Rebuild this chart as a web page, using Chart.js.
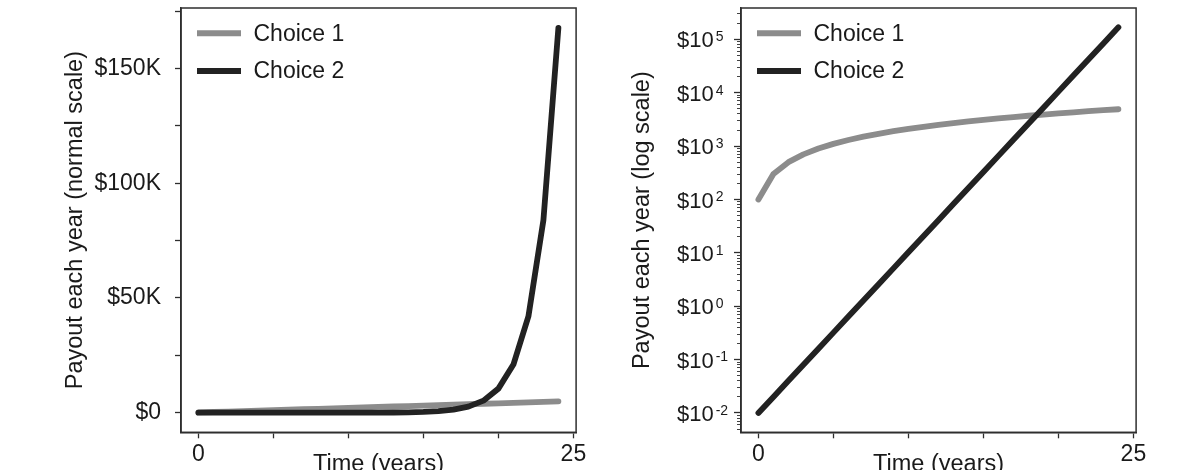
<!DOCTYPE html>
<html>
<head>
<meta charset="utf-8">
<script src="https://cdn.jsdelivr.net/npm/chart.js@4.4.1/dist/chart.umd.min.js"></script>
<style>
  html, body { margin: 0; padding: 0; background: #fff; overflow: hidden; width: 1200px; height: 470px; }
  .panel { position: absolute; top: 0; width: 600px; height: 490px; }
  #p1 { left: 0; }
  #p2 { left: 560px; }
</style>
</head>
<body>
<div class="panel" id="p1"><canvas id="c1"></canvas></div>
<div class="panel" id="p2"><canvas id="c2"></canvas></div>
<script>
'use strict';

// Payout per year for the two choices (years 0..24).
const years = [0, 1, 2, 3, 4, 5, 6, 7, 8, 9, 10, 11, 12, 13, 14, 15, 16, 17, 18, 19, 20, 21, 22, 23, 24];
const choice1 = [100, 300, 500, 700, 900, 1100, 1300, 1500, 1700, 1900, 2100, 2300, 2500,
  2700, 2900, 3100, 3300, 3500, 3700, 3900, 4100, 4300, 4500, 4700, 4900];
const choice2 = [0.01, 0.02, 0.04, 0.08, 0.16, 0.32, 0.64, 1.28, 2.56, 5.12, 10.24, 20.48, 40.96,
  81.92, 163.84, 327.68, 655.36, 1310.72, 2621.44, 5242.88, 10485.76, 20971.52, 41943.04,
  83886.08, 167772.16];

const seriesNames = ['Choice 1', 'Choice 2'];

// Axis ticks
const xTicks = [0, 5, 10, 15, 20, 25];
const xTickLabels = ['0', '', '', '', '', '25'];
const linTicks = [0, 25000, 50000, 75000, 100000, 125000, 150000, 175000];
const linTickLabels = ['$0', '', '$50K', '', '$100K', '', '$150K', ''];
const logDecades = [-2, -1, 0, 1, 2, 3, 4, 5];

const FONT = '"Liberation Sans", Arial, Helvetica, sans-serif';
const TEXT = '#1a1a1a';
const AXIS = '#2e2e2e';
const GREY = '#8c8c8c';
const BLACK = '#222222';

const X_MIN = -1.16, X_MAX = 25.18;
const LIN_MIN = -8550, LIN_MAX = 176400;
const LOG_MIN = 0.004346, LOG_MAX = 386400;

const pts = (ys) => ys.map((v, i) => ({ x: years[i], y: v }));

function datasets() {
  return [
    { label: seriesNames[0], data: pts(choice1), borderColor: GREY, borderWidth: 5.8, order: 1 },
    { label: seriesNames[1], data: pts(choice2), borderColor: BLACK, borderWidth: 5.8, order: 0 },
  ];
}

// box around the plotting area
const frame = {
  id: 'frame',
  afterDatasetsDraw(chart) {
    const a = chart.chartArea, c = chart.ctx;
    c.save();
    c.strokeStyle = AXIS;
    c.lineWidth = 1.5;
    c.strokeRect(a.left, a.top, a.right - a.left, a.bottom - a.top);
    c.restore();
  },
};

// legend sits inside the top-left corner of the box
const insideLegend = {
  id: 'insideLegend',
  afterDraw(chart) {
    const a = chart.chartArea, c = chart.ctx;
    c.save();
    chart.data.datasets.forEach((ds, i) => {
      const y = a.top + 25.3 + i * 37.7;
      c.strokeStyle = ds.borderColor;
      c.lineWidth = 6;
      c.lineCap = 'butt';
      c.beginPath();
      c.moveTo(a.left + 16, y);
      c.lineTo(a.left + 60, y);
      c.stroke();
      c.fillStyle = TEXT;
      c.font = '23px ' + FONT;
      c.textAlign = 'left';
      c.textBaseline = 'middle';
      c.fillText(ds.label, a.left + 72.5, y + 1);
    });
    c.restore();
  },
};

// $10^n labels with a raised exponent
const supLabels = {
  id: 'supLabels',
  afterDraw(chart) {
    const s = chart.scales.y, a = chart.chartArea, c = chart.ctx;
    c.save();
    c.fillStyle = TEXT;
    c.textAlign = 'left';
    c.textBaseline = 'middle';
    logDecades.forEach(e => {
      const y = s.getPixelForValue(Math.pow(10, e));
      const x0 = a.left - 64;
      c.font = '22px ' + FONT;
      c.fillText('$10', x0, y + 2);
      const w = c.measureText('$10').width;
      c.font = '14px ' + FONT;
      c.fillText(String(e), x0 + w + 2, y - 2);
    });
    c.restore();
  },
};

// keep the plot box where the figure has it: no extra room for edge labels
function fixX(s) { s.height = 57.7; s.paddingLeft = 0; s.paddingRight = 0; }
function fixY(s) { s.width = 181; s.paddingTop = 0; s.paddingBottom = 0; }

function xScale() {
  return {
    type: 'linear', min: X_MIN, max: X_MAX,
    afterBuildTicks: s => { s.ticks = xTicks.map(v => ({ value: v })); },
    afterFit: fixX,
    grid: { drawOnChartArea: false, drawTicks: true, tickLength: 6, tickColor: AXIS, tickWidth: 1.3 },
    border: { display: true, color: AXIS, width: 1.5 },
    ticks: {
      autoSkip: false, maxRotation: 0, padding: 3, color: TEXT,
      font: { family: FONT, size: 23 },
      callback: v => xTickLabels[xTicks.indexOf(v)] || '',
    },
    title: { display: true, text: 'Time (years)', color: TEXT, font: { family: FONT, size: 23.5 }, padding: { top: 0, bottom: 11.5 } },
  };
}

const baseOpts = {
  responsive: true, maintainAspectRatio: false, animation: false,
  layout: { padding: { top: 8, right: 23.9, left: 0, bottom: 0 } },
  elements: { point: { radius: 0 }, line: { tension: 0, borderCapStyle: 'round', borderJoinStyle: 'round' } },
  plugins: { legend: { display: false }, tooltip: { enabled: false } },
};

new Chart(document.getElementById('c1'), {
  type: 'line',
  data: { datasets: datasets() },
  options: {
    ...baseOpts,
    scales: {
      x: xScale(),
      y: {
        type: 'linear', min: LIN_MIN, max: LIN_MAX,
        afterBuildTicks: s => { s.ticks = linTicks.map(v => ({ value: v })); },
        afterFit: fixY,
        grid: { drawOnChartArea: false, drawTicks: true, tickLength: 6, tickColor: AXIS, tickWidth: 1.3 },
        border: { display: true, color: AXIS, width: 1.5 },
        ticks: {
          autoSkip: false, padding: 14, color: TEXT,
          font: { family: FONT, size: 23 },
          callback: v => linTickLabels[linTicks.indexOf(v)] || '',
        },
        title: { display: true, text: 'Payout each year (normal scale)', color: TEXT, font: { family: FONT, size: 23.5 }, padding: { top: 61, bottom: 0 } },
      },
    },
  },
  plugins: [frame, insideLegend],
});

const logTicks = [];
logDecades.concat([-3]).forEach(e => {
  for (let m = 1; m <= 9; m++) {
    const v = m * Math.pow(10, e);
    if (v >= LOG_MIN && v <= LOG_MAX) logTicks.push(v);
  }
});
logTicks.sort((a, b) => a - b);
const isDecade = v => logDecades.some(e => Math.abs(v / Math.pow(10, e) - 1) < 1e-9);

new Chart(document.getElementById('c2'), {
  type: 'line',
  data: { datasets: datasets() },
  options: {
    ...baseOpts,
    scales: {
      x: xScale(),
      y: {
        type: 'logarithmic', min: LOG_MIN, max: LOG_MAX,
        afterBuildTicks: s => { s.ticks = logTicks.map(v => ({ value: v })); },
        afterFit: fixY,
        grid: {
          drawOnChartArea: false, drawTicks: true, tickLength: 7, tickColor: AXIS,
          tickWidth: ctx => (ctx.tick && isDecade(ctx.tick.value)) ? 1.3 : 0.9,
          tickBorderDash: ctx => (ctx.tick && isDecade(ctx.tick.value)) ? [] : [0, 3, 4, 20],
        },
        border: { display: true, color: AXIS, width: 1.5 },
        ticks: { autoSkip: false, padding: 10, color: TEXT, font: { family: FONT, size: 22 }, callback: () => '' },
        title: { display: true, text: 'Payout each year (log scale)', color: TEXT, font: { family: FONT, size: 23.5 }, padding: { top: 68, bottom: 0 } },
      },
    },
  },
  plugins: [frame, insideLegend, supLabels],
});
</script>
</body>
</html>
